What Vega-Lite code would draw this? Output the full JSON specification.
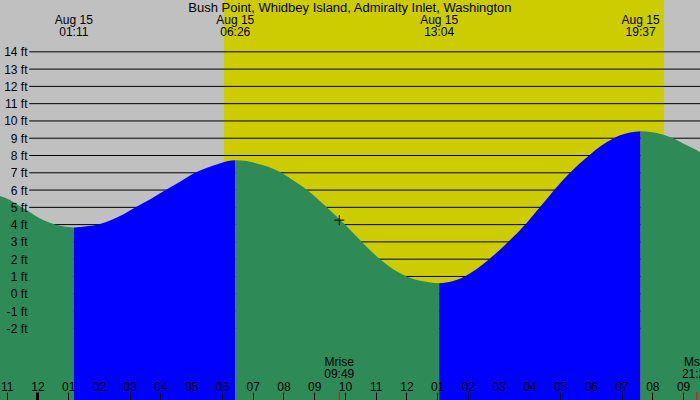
{
  "$schema": "https://vega.github.io/schema/vega-lite/v6.json",
  "width": 700,
  "height": 400,
  "padding": 0,
  "autosize": {"type": "none"},
  "background": "#c0c0c0",
  "config": {
    "view": {"stroke": null, "fill": "#c0c0c0"},
    "font": "Liberation Sans",
    "text": {"font": "Liberation Sans", "fontSize": 12, "color": "black"}
  },
  "datasets": {
    "daylight": [{"start": 6.067, "end": 20.375}],
    "levels": [
      {"ft": -2}, {"ft": -1}, {"ft": 0}, {"ft": 1}, {"ft": 2}, {"ft": 3}, {"ft": 4}, {"ft": 5}, {"ft": 6},
      {"ft": 7}, {"ft": 8}, {"ft": 9}, {"ft": 10}, {"ft": 11}, {"ft": 12}, {"ft": 13}, {"ft": 14}
    ],
    "tide": [
      {"h": -1.218, "ft": 5.65, "seg": 1, "phase": "falling"},
      {"h": -0.893, "ft": 5.42, "seg": 1, "phase": "falling"},
      {"h": -0.567, "ft": 5.07, "seg": 1, "phase": "falling"},
      {"h": -0.242, "ft": 4.71, "seg": 1, "phase": "falling"},
      {"h": 0.083, "ft": 4.36, "seg": 1, "phase": "falling"},
      {"h": 0.408, "ft": 4.11, "seg": 1, "phase": "falling"},
      {"h": 0.733, "ft": 3.93, "seg": 1, "phase": "falling"},
      {"h": 1.0, "ft": 3.86, "seg": 1, "phase": "falling"},
      {"h": 1.183, "ft": 3.84, "seg": 1, "phase": "falling"},
      {"h": 1.183, "ft": 3.84, "seg": 2, "phase": "rising"},
      {"h": 1.6, "ft": 3.9, "seg": 2, "phase": "rising"},
      {"h": 2.03, "ft": 4.04, "seg": 2, "phase": "rising"},
      {"h": 2.4, "ft": 4.27, "seg": 2, "phase": "rising"},
      {"h": 2.8, "ft": 4.6, "seg": 2, "phase": "rising"},
      {"h": 3.19, "ft": 5.0, "seg": 2, "phase": "rising"},
      {"h": 3.7, "ft": 5.5, "seg": 2, "phase": "rising"},
      {"h": 4.17, "ft": 6.0, "seg": 2, "phase": "rising"},
      {"h": 4.65, "ft": 6.5, "seg": 2, "phase": "rising"},
      {"h": 5.12, "ft": 7.0, "seg": 2, "phase": "rising"},
      {"h": 5.5, "ft": 7.28, "seg": 2, "phase": "rising"},
      {"h": 5.9, "ft": 7.53, "seg": 2, "phase": "rising"},
      {"h": 6.2, "ft": 7.68, "seg": 2, "phase": "rising"},
      {"h": 6.433, "ft": 7.73, "seg": 2, "phase": "rising"},
      {"h": 6.433, "ft": 7.73, "seg": 3, "phase": "falling"},
      {"h": 6.8, "ft": 7.68, "seg": 3, "phase": "falling"},
      {"h": 7.13, "ft": 7.54, "seg": 3, "phase": "falling"},
      {"h": 7.5, "ft": 7.35, "seg": 3, "phase": "falling"},
      {"h": 7.94, "ft": 7.0, "seg": 3, "phase": "falling"},
      {"h": 8.35, "ft": 6.52, "seg": 3, "phase": "falling"},
      {"h": 8.77, "ft": 6.0, "seg": 3, "phase": "falling"},
      {"h": 9.41, "ft": 5.0, "seg": 3, "phase": "falling"},
      {"h": 10.0, "ft": 4.0, "seg": 3, "phase": "falling"},
      {"h": 10.52, "ft": 3.05, "seg": 3, "phase": "falling"},
      {"h": 11.14, "ft": 2.0, "seg": 3, "phase": "falling"},
      {"h": 11.68, "ft": 1.3, "seg": 3, "phase": "falling"},
      {"h": 12.01, "ft": 1.0, "seg": 3, "phase": "falling"},
      {"h": 12.5, "ft": 0.73, "seg": 3, "phase": "falling"},
      {"h": 13.067, "ft": 0.6, "seg": 3, "phase": "falling"},
      {"h": 13.067, "ft": 0.6, "seg": 4, "phase": "rising"},
      {"h": 13.5, "ft": 0.72, "seg": 4, "phase": "rising"},
      {"h": 13.9, "ft": 1.0, "seg": 4, "phase": "rising"},
      {"h": 14.3, "ft": 1.44, "seg": 4, "phase": "rising"},
      {"h": 14.66, "ft": 1.95, "seg": 4, "phase": "rising"},
      {"h": 15.31, "ft": 3.0, "seg": 4, "phase": "rising"},
      {"h": 15.89, "ft": 4.05, "seg": 4, "phase": "rising"},
      {"h": 16.34, "ft": 5.0, "seg": 4, "phase": "rising"},
      {"h": 16.78, "ft": 5.95, "seg": 4, "phase": "rising"},
      {"h": 17.32, "ft": 7.0, "seg": 4, "phase": "rising"},
      {"h": 17.97, "ft": 8.05, "seg": 4, "phase": "rising"},
      {"h": 18.29, "ft": 8.5, "seg": 4, "phase": "rising"},
      {"h": 18.73, "ft": 8.98, "seg": 4, "phase": "rising"},
      {"h": 18.95, "ft": 9.17, "seg": 4, "phase": "rising"},
      {"h": 19.27, "ft": 9.33, "seg": 4, "phase": "rising"},
      {"h": 19.617, "ft": 9.41, "seg": 4, "phase": "rising"},
      {"h": 19.617, "ft": 9.41, "seg": 5, "phase": "falling"},
      {"h": 20.0, "ft": 9.35, "seg": 5, "phase": "falling"},
      {"h": 20.46, "ft": 9.15, "seg": 5, "phase": "falling"},
      {"h": 20.67, "ft": 9.0, "seg": 5, "phase": "falling"},
      {"h": 21.22, "ft": 8.5, "seg": 5, "phase": "falling"},
      {"h": 21.55, "ft": 8.2, "seg": 5, "phase": "falling"}
    ],
    "moon": [
      {"h": 9.817, "label": "Mrise\n09:49"},
      {"h": 21.45, "label": "Mset\n21:27"}
    ],
    "marker": [{"h": 9.817, "ft": 4.26}],
    "events": [
      {"h": 1.183, "label": "Aug 15\n01:11"},
      {"h": 6.433, "label": "Aug 15\n06:26"},
      {"h": 13.067, "label": "Aug 15\n13:04"},
      {"h": 19.617, "label": "Aug 15\n19:37"}
    ],
    "heading": [{"h": 10.165, "text": "Bush Point, Whidbey Island, Admiralty Inlet, Washington"}]
  },
  "layer": [
    {
      "data": {"name": "daylight"},
      "mark": {"type": "rect", "color": "#cccc00"},
      "encoding": {
        "x": {"field": "start", "type": "quantitative", "scale": {"domain": [-1.218, 21.55], "nice": false, "zero": false}},
        "x2": {"field": "end"}
      }
    },
    {
      "data": {"name": "levels"},
      "mark": {"type": "rule", "color": "black", "strokeWidth": 1},
      "encoding": {
        "y": {"field": "ft", "type": "quantitative", "scale": {"domain": [-6.15, 17.0], "nice": false, "zero": false}},
        "x": {"datum": -0.27, "type": "quantitative", "scale": {"domain": [-1.218, 21.55], "nice": false, "zero": false}},
        "x2": {"datum": 21.55}
      }
    },
    {
      "data": {"name": "tide"},
      "mark": {"type": "area", "interpolate": "monotone"},
      "encoding": {
        "x": {
          "field": "h",
          "type": "quantitative",
          "scale": {"domain": [-1.218, 21.55], "nice": false, "zero": false},
          "axis": {
            "orient": "bottom",
            "offset": -8,
            "values": [-1, 0, 1, 2, 3, 4, 5, 6, 7, 8, 9, 10, 11, 12, 13, 14, 15, 16, 17, 18, 19, 20, 21],
            "tickCount": 50,
            "labelExpr": "(((datum.value + 11) % 12 + 1) < 10 ? '0' : '') + ((datum.value + 11) % 12 + 1)",
            "domain": false,
            "grid": false,
            "ticks": true,
            "tickSize": 8,
            "tickColor": "black",
            "tickWidth": {"condition": {"test": "datum.value === 0", "value": 3}, "value": 1},
            "labelPadding": -10,
            "labelBaseline": "alphabetic",
            "labelFont": "Liberation Sans",
            "labelFontSize": 12,
            "labelColor": "black",
            "labelFlush": false,
            "labelOverlap": false,
            "title": null,
            "zindex": 1
          }
        },
        "y": {
          "field": "ft",
          "type": "quantitative",
          "scale": {"domain": [-6.15, 17.0], "nice": false, "zero": false},
          "axis": {
            "orient": "left",
            "offset": -29,
            "values": [-2, -1, 0, 1, 2, 3, 4, 5, 6, 7, 8, 9, 10, 11, 12, 13, 14],
            "tickCount": 50,
            "labelExpr": "datum.value + ' ft'",
            "domain": false,
            "ticks": false,
            "tickSize": 0,
            "grid": false,
            "labelPadding": 2,
            "labelFont": "Liberation Sans",
            "labelFontSize": 12,
            "labelColor": "black",
            "labelFlush": false,
            "labelOverlap": false,
            "title": null,
            "zindex": 1
          }
        },
        "y2": {"datum": -6.15},
        "color": {
          "field": "phase",
          "type": "nominal",
          "scale": {"domain": ["falling", "rising"], "range": ["#2e8b57", "#0000ff"]},
          "legend": null
        },
        "detail": {"field": "seg"}
      }
    },
    {
      "data": {"name": "moon"},
      "mark": {"type": "rule", "color": "#ff0000", "strokeWidth": 1},
      "encoding": {
        "x": {"field": "h", "type": "quantitative", "scale": {"domain": [-1.218, 21.55], "nice": false, "zero": false}},
        "y": {"datum": -6.15, "type": "quantitative", "scale": {"domain": [-6.15, 17.0], "nice": false, "zero": false}},
        "y2": {"datum": -5.69}
      }
    },
    {
      "data": {"name": "moon"},
      "mark": {"type": "text", "align": "center", "baseline": "alphabetic", "lineBreak": "\n", "lineHeight": 12},
      "encoding": {
        "x": {"field": "h", "type": "quantitative", "scale": {"domain": [-1.218, 21.55], "nice": false, "zero": false}},
        "y": {"datum": -4.18, "type": "quantitative", "scale": {"domain": [-6.15, 17.0], "nice": false, "zero": false}},
        "text": {"field": "label"}
      }
    },
    {
      "data": {"name": "marker"},
      "mark": {"type": "point", "shape": "M-1,0H1M0,-1V1", "size": 100, "filled": false, "stroke": "black", "strokeWidth": 1, "opacity": 1},
      "encoding": {
        "x": {"field": "h", "type": "quantitative", "scale": {"domain": [-1.218, 21.55], "nice": false, "zero": false}},
        "y": {"field": "ft", "type": "quantitative", "scale": {"domain": [-6.15, 17.0], "nice": false, "zero": false}}
      }
    },
    {
      "data": {"name": "events"},
      "mark": {"type": "text", "align": "center", "baseline": "alphabetic", "lineBreak": "\n", "lineHeight": 12},
      "encoding": {
        "x": {"field": "h", "type": "quantitative", "scale": {"domain": [-1.218, 21.55], "nice": false, "zero": false}},
        "y": {"datum": 15.6, "type": "quantitative", "scale": {"domain": [-6.15, 17.0], "nice": false, "zero": false}},
        "text": {"field": "label"}
      }
    },
    {
      "data": {"name": "heading"},
      "mark": {"type": "text", "align": "center", "baseline": "alphabetic", "fontSize": 13},
      "encoding": {
        "x": {"field": "h", "type": "quantitative", "scale": {"domain": [-1.218, 21.55], "nice": false, "zero": false}},
        "y": {"datum": 16.32, "type": "quantitative", "scale": {"domain": [-6.15, 17.0], "nice": false, "zero": false}},
        "text": {"field": "text"}
      }
    }
  ]
}
